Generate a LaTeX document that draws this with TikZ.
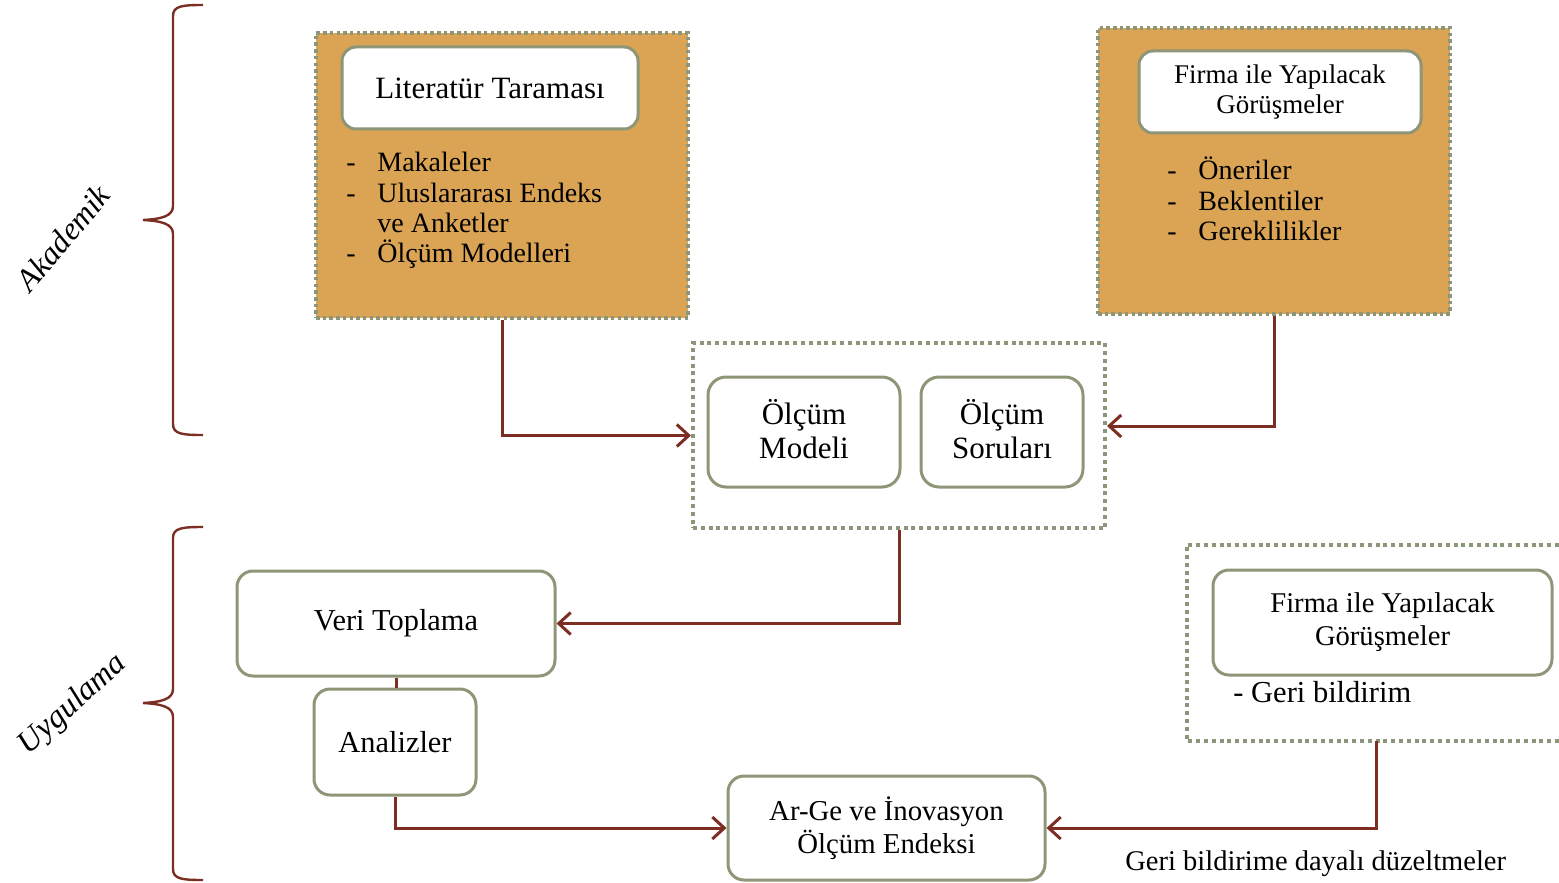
\documentclass[tikz,border=0pt]{standalone}
\usepackage{fontspec}
\setmainfont{Liberation Serif}
\usetikzlibrary{arrows.meta}
\definecolor{orfill}{RGB}{218,164,84}
\definecolor{dotc}{RGB}{140,150,122}
\definecolor{boxc}{RGB}{142,150,120}
\definecolor{arrc}{RGB}{124,46,34}
\begin{document}
\begin{tikzpicture}[x=0.5pt,y=-0.5pt,
 dotbox/.style={draw=dotc, line width=2pt, dash pattern=on 2pt off 1.9pt, inner sep=0pt},
 orbox/.style={dotbox, fill=orfill, line width=1.75pt, dash pattern=on 1.75pt off 1.6pt},
 rbox/.style={draw=boxc, line width=1.5pt, rounded corners=7pt, fill=white, align=center, inner sep=0pt},
 conn/.style={draw=arrc, line width=1.5pt, -{Straight Barb[length=6pt,width=11pt]}},
 plainconn/.style={draw=arrc, line width=1.5pt},
 bracestyle/.style={draw=arrc, line width=1.2pt},
 lbl/.style={anchor=base west, inner sep=0pt, font=\fontsize{14}{16}\selectfont},
 side/.style={inner sep=0pt, font=\itshape\fontsize{16}{18}\selectfont},
]
\useasboundingbox (0,0) rectangle (1559,883);

% braces
\draw[bracestyle] (203,5) .. controls (182,5) and (173,6) .. (173,16) -- (173,206)
  .. controls (173,216) and (162,219) .. (143,220)
  .. controls (162,221) and (173,224) .. (173,234) -- (173,424)
  .. controls (173,434) and (182,435) .. (203,435);
\draw[bracestyle] (203,527) .. controls (182,527) and (173,528) .. (173,538) -- (173,689)
  .. controls (173,699) and (162,702) .. (143,703)
  .. controls (162,704) and (173,707) .. (173,717) -- (173,869)
  .. controls (173,879) and (182,880) .. (203,880);
\node[side, rotate=50] (akad) at (63,238) {Akademik};
\node[side, rotate=42] (uyg) at (73,705) {Uygulama};

% top-left
\node[orbox, minimum width=186pt, minimum height=142.5pt] (tl) at (502,175.5) {};
\node[rbox, minimum width=148pt, minimum height=41pt, font=\fontsize{15.5}{18}\selectfont] (lit) at (490,88) {Literatür Taraması};
\node[lbl] (d1) at (346,171.5) {-};
\node[lbl] (t1) at (377,171.5) {Makaleler};
\node[lbl] (d2) at (346,202) {-};
\node[lbl] (t2) at (377,202) {Uluslararası Endeks};
\node[lbl] (t3) at (377,232.5) {ve Anketler};
\node[lbl] (d4) at (346,263) {-};
\node[lbl] (t4) at (377,263) {Ölçüm Modelleri};

% top-right
\node[orbox, minimum width=176pt, minimum height=143pt] (tr) at (1274,171) {};
\node[rbox, minimum width=141pt, minimum height=41pt, font=\fontsize{13.5}{15}\selectfont] (firma1) at (1280,92) {Firma ile Yapılacak\\Görüşmeler};
\node[lbl] (e1) at (1167,180) {-};
\node[lbl] (s1) at (1198,180) {Öneriler};
\node[lbl] (e2) at (1167,210.5) {-};
\node[lbl] (s2) at (1198,210.5) {Beklentiler};
\node[lbl] (e3) at (1167,240.5) {-};
\node[lbl] (s3) at (1198,240.5) {Gereklilikler};

% middle
\node[dotbox, minimum width=206pt, minimum height=92.5pt] (mid) at (899,435.5) {};
\node[rbox, rounded corners=9pt, minimum width=96pt, minimum height=55pt] (model) at (804,432) {};
\node[inner sep=0pt, align=center, font=\fontsize{15.5}{17}\selectfont] (modelt) at (804,429) {Ölçüm\\Modeli};
\node[rbox, rounded corners=9pt, minimum width=81pt, minimum height=55pt] (soru) at (1002,432) {};
\node[inner sep=0pt, align=center, font=\fontsize{15.5}{17}\selectfont] (sorut) at (1002,429) {Ölçüm\\Soruları};

% lower left
\node[rbox, rounded corners=8pt, minimum width=159pt, minimum height=52.5pt, font=\fontsize{15.2}{17}\selectfont] (veri) at (396,623.5) {Veri Toplama};
\node[rbox, rounded corners=8pt, minimum width=81pt, minimum height=53pt, font=\fontsize{15.2}{17}\selectfont] (analiz) at (395,742) {Analizler};
\node[rbox, rounded corners=8pt, minimum width=158.5pt, minimum height=52pt, font=\fontsize{14.4}{16.5}\selectfont] (arge) at (886.5,828) {Ar-Ge ve İnovasyon\\Ölçüm Endeksi};

% lower right
\draw[dotbox] (1559,545) -- (1187,545) -- (1187,741) -- (1559,741);
\coordinate (brbot) at (1376,741);
\node[rbox, rounded corners=8pt, minimum width=169.5pt, minimum height=52.5pt, font=\fontsize{14.3}{16.5}\selectfont] (firma2) at (1382.5,622.5) {Firma ile Yapılacak\\Görüşmeler};
\node[inner sep=0pt, anchor=base west, font=\fontsize{15.25}{17}\selectfont] (geri) at (1233,702.5) {- Geri bildirim};
\node[inner sep=0pt, anchor=base west, font=\fontsize{14.25}{16}\selectfont] (duz) at (1125,870) {Geri bildirime dayalı düzeltmeler};

% connectors
\draw[conn] (tl.south) |- (mid.west);
\draw[conn] (tr.south) |- ([yshift=4.75pt]mid.east);
\draw[conn] (mid.south) |- (veri.east);
\draw[plainconn] (veri.south) -- (veri.south |- analiz.north);
\draw[conn] (analiz.south) |- (arge.west);
\draw[conn] (brbot) |- (arge.east);
\end{tikzpicture}
\end{document}
